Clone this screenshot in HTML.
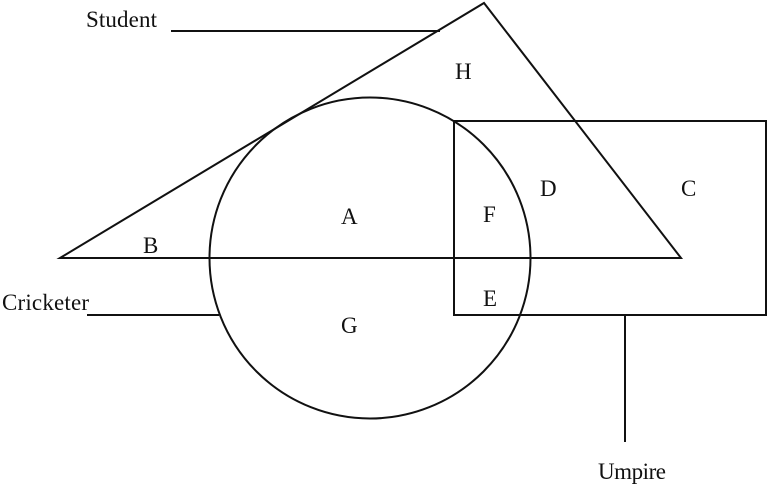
<!DOCTYPE html>
<html>
<head>
<meta charset="utf-8">
<style>
html,body{margin:0;padding:0;background:#fff;}
svg{display:block;}
text{font-family:"Liberation Serif",serif;font-size:23px;fill:#111;}
</style>
</head>
<body>
<svg width="770" height="488" viewBox="0 0 770 488" xmlns="http://www.w3.org/2000/svg">
<g fill="none" stroke="#111" stroke-width="2">
<polygon points="60,258 484,3 681,258"/>
<circle cx="370" cy="258" r="160.5"/>
<rect x="454" y="121" width="312" height="194"/>
<line x1="171" y1="31" x2="440" y2="31"/>
<line x1="87" y1="315" x2="219" y2="315"/>
<line x1="625" y1="315" x2="625" y2="442"/>
</g>
<text x="86" y="27" textLength="71" lengthAdjust="spacing">Student</text>
<text x="2" y="310" textLength="87" lengthAdjust="spacing">Cricketer</text>
<text x="598" y="479" textLength="68" lengthAdjust="spacing">Umpire</text>
<text x="455" y="79">H</text>
<text x="540" y="196">D</text>
<text x="681" y="196">C</text>
<text x="341" y="224">A</text>
<text x="483" y="222">F</text>
<text x="143" y="253">B</text>
<text x="483" y="306">E</text>
<text x="341" y="333">G</text>
</svg>
</body>
</html>
